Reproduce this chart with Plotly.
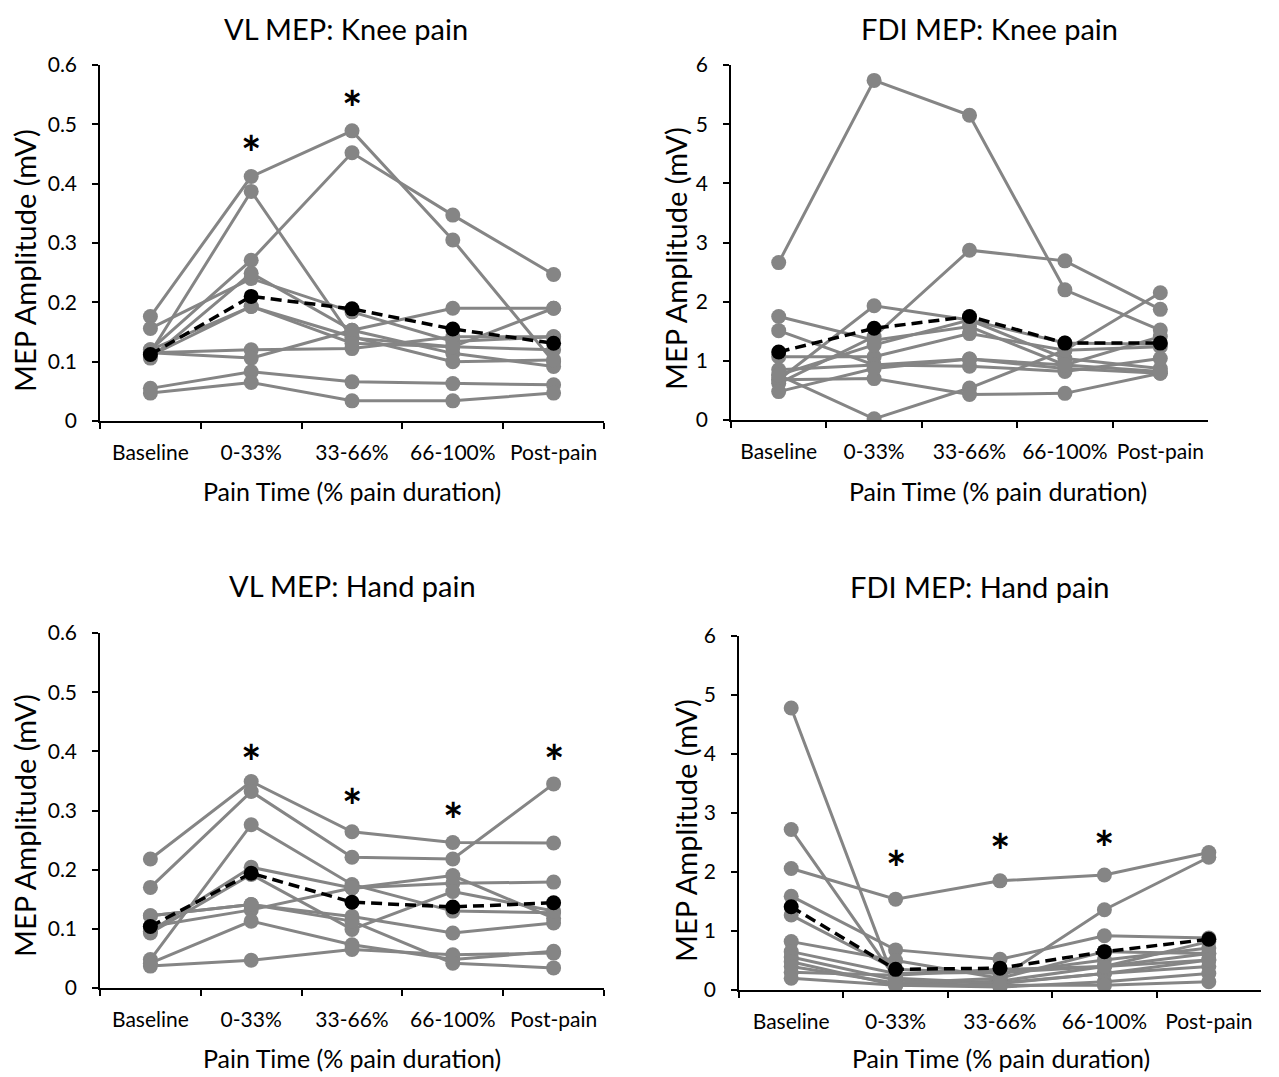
import plotly.graph_objects as go

CATS = ["Baseline", "0-33%", "33-66%", "66-100%", "Post-pain"]

# VL MEP: Knee pain (mV)
VL_KNEE = [
    [0.176, 0.412, 0.489, 0.305, 0.100],
    [0.115, 0.387, 0.140, 0.125, 0.120],
    [0.120, 0.271, 0.452, 0.347, 0.247],
    [0.156, 0.240, 0.184, 0.134, 0.142],
    [0.106, 0.249, 0.153, 0.114, 0.092],
    [0.120, 0.193, 0.142, 0.100, 0.103],
    [0.115, 0.120, 0.122, 0.142, 0.142],
    [0.115, 0.106, 0.153, 0.190, 0.190],
    [0.055, 0.083, 0.066, 0.063, 0.061],
    [0.047, 0.065, 0.034, 0.034, 0.047],
    [0.110, 0.193, 0.131, 0.125, 0.190],
]
VL_KNEE_MEAN = [0.112, 0.210, 0.189, 0.155, 0.131]
VL_KNEE_STARS = [("0-33%", 0.469), ("33-66%", 0.546)]

# FDI MEP: Knee pain (mV)
FDI_KNEE = [
    [2.66, 5.74, 5.15, 2.20, 1.52],
    [0.62, 1.41, 2.87, 2.69, 1.87],
    [0.76, 0.02, 0.54, 1.18, 2.15],
    [1.75, 1.35, 1.58, 0.93, 0.82],
    [1.51, 0.93, 1.03, 0.87, 0.79],
    [0.68, 1.93, 1.69, 1.04, 0.87],
    [1.07, 1.07, 1.46, 1.18, 1.24],
    [0.68, 0.70, 0.43, 0.45, 0.79],
    [0.85, 0.93, 0.91, 0.82, 1.04],
    [0.48, 0.87, 1.03, 0.93, 1.41],
    [0.76, 1.27, 1.69, 1.30, 1.28],
]
FDI_KNEE_MEAN = [1.15, 1.55, 1.75, 1.30, 1.30]
FDI_KNEE_STARS = []

# VL MEP: Hand pain (mV)
VL_HAND = [
    [0.218, 0.349, 0.264, 0.246, 0.245],
    [0.170, 0.332, 0.221, 0.218, 0.345],
    [0.048, 0.276, 0.175, 0.130, 0.127],
    [0.096, 0.204, 0.169, 0.190, 0.118],
    [0.122, 0.141, 0.121, 0.093, 0.110],
    [0.104, 0.132, 0.169, 0.177, 0.179],
    [0.042, 0.113, 0.073, 0.048, 0.062],
    [0.037, 0.047, 0.065, 0.056, 0.059],
    [0.093, 0.192, 0.099, 0.163, 0.130],
    [0.122, 0.141, 0.113, 0.042, 0.034],
]
VL_HAND_MEAN = [0.104, 0.194, 0.145, 0.137, 0.144]
VL_HAND_STARS = [("0-33%", 0.399), ("33-66%", 0.326), ("66-100%", 0.301), ("Post-pain", 0.399)]

# FDI MEP: Hand pain (mV)
FDI_HAND = [
    [4.78, 0.10, 0.15, 0.40, 0.62],
    [2.72, 0.20, 0.12, 0.28, 0.51],
    [2.06, 1.54, 1.85, 1.95, 2.33],
    [1.59, 0.68, 0.52, 0.92, 0.88],
    [1.27, 0.35, 0.28, 0.51, 0.71],
    [0.82, 0.50, 0.20, 1.36, 2.25],
    [0.65, 0.28, 0.30, 0.40, 0.82],
    [0.56, 0.17, 0.11, 0.28, 0.40],
    [0.48, 0.08, 0.05, 0.14, 0.28],
    [0.40, 0.12, 0.20, 0.65, 0.62],
    [0.30, 0.25, 0.35, 0.40, 0.51],
    [0.20, 0.08, 0.08, 0.08, 0.14],
]
FDI_HAND_MEAN = [1.41, 0.35, 0.37, 0.65, 0.86]
FDI_HAND_STARS = [("0-33%", 2.24), ("33-66%", 2.54), ("66-100%", 2.58)]

TITLES = ["VL MEP: Knee pain", "FDI MEP: Knee pain", "VL MEP: Hand pain", "FDI MEP: Hand pain"]
Y_TITLE = "MEP Amplitude (mV)"
X_TITLE = "Pain Time (% pain duration)"

# page is 1279x1077; the html body has an 8px margin, so the figure is a bit smaller
PAGE_W, PAGE_H, OFF = 1279, 1077, 8
W, H = PAGE_W - OFF, PAGE_H - OFF
FONT = "Lato"
GRAY = "#858585"


def px(x):
    return (x - OFF) / W


def py(y):
    return 1 - (y - OFF) / H


# panel pixel boxes in page coordinates: (left, right, top, bottom)
BOXES = [(100, 604, 65, 421), (731, 1208, 65, 420), (100, 604, 633, 988), (739, 1261, 636, 990)]
YRANGES = [(0, 0.6, 0.1), (0, 6, 1), (0, 0.6, 0.1), (0, 6, 1)]
PANELS = [
    (VL_KNEE, VL_KNEE_MEAN, VL_KNEE_STARS),
    (FDI_KNEE, FDI_KNEE_MEAN, FDI_KNEE_STARS),
    (VL_HAND, VL_HAND_MEAN, VL_HAND_STARS),
    (FDI_HAND, FDI_HAND_MEAN, FDI_HAND_STARS),
]
# text positions in page pixels (titles: top edge of text box)
TITLE_POS = [(346, 9), (989, 9), (352, 566), (980, 567)]
YT_POS = [(24, 261), (676, 258), (24, 826), (685, 830)]
XT_POS = [(352, 491), (998, 491), (352, 1058), (1001, 1058)]

fig = go.Figure()
annotations = []
layout = {}

for i, ((subjects, mean, stars), (l, r, t, b), (y0, y1, dt)) in enumerate(zip(PANELS, BOXES, YRANGES)):
    n = "" if i == 0 else str(i + 1)
    xa, ya = "x" + n, "y" + n
    for s in subjects:
        fig.add_trace(go.Scatter(
            x=CATS, y=s, mode="lines+markers", xaxis=xa, yaxis=ya,
            line=dict(color=GRAY, width=3), marker=dict(color=GRAY, size=15),
            showlegend=False, hoverinfo="skip"))
    fig.add_trace(go.Scatter(
        x=CATS, y=mean, mode="lines+markers", xaxis=xa, yaxis=ya,
        line=dict(color="black", width=3.5, dash="11px,6px"),
        marker=dict(color="black", size=15), showlegend=False))
    layout["xaxis" + n] = dict(
        domain=[px(l), px(r)], anchor=ya, type="category", categoryorder="array",
        categoryarray=CATS, range=[-0.5, 4.5], showline=True, linecolor="black",
        linewidth=1.5, ticks="outside", tickson="boundaries", ticklen=6,
        tickcolor="black", tickwidth=1.5, showgrid=False, zeroline=False,
        automargin=False, ticklabelstandoff=12, tickangle=0,
        tickfont=dict(family=FONT, size=21, color="black"))
    layout["yaxis" + n] = dict(
        domain=[py(b), py(t)], anchor=xa, range=[y0, y1], dtick=dt,
        tick0=0, showline=True, linecolor="black", linewidth=1.5, ticks="outside",
        ticklen=6, tickcolor="black", tickwidth=1.5, showgrid=False, zeroline=False,
        automargin=False, ticklabelstandoff=11,
        tickfont=dict(family=FONT, size=21, color="black"))
    for cx, cy in stars:
        annotations.append(dict(
            x=cx, y=cy, xref=xa, yref=ya, text="<b>*</b>", showarrow=False,
            font=dict(family=FONT, size=48, color="black"), yanchor="middle",
            yshift=-10))
    tx, ty = TITLE_POS[i]
    annotations.append(dict(x=px(tx), y=py(ty), xref="paper", yref="paper",
                            text=TITLES[i], showarrow=False,
                            font=dict(family=FONT, size=29, color="black"),
                            xanchor="center", yanchor="top"))
    yx, yy = YT_POS[i]
    annotations.append(dict(x=px(yx), y=py(yy), xref="paper", yref="paper",
                            text=Y_TITLE, showarrow=False, textangle=-90,
                            font=dict(family=FONT, size=29, color="black"),
                            xanchor="center", yanchor="middle"))
    xx, xy = XT_POS[i]
    annotations.append(dict(x=px(xx), y=py(xy), xref="paper", yref="paper",
                            text=X_TITLE, showarrow=False,
                            font=dict(family=FONT, size=25, color="black"),
                            xanchor="center", yanchor="middle"))

fig.update_layout(
    template="none",
    width=W, height=H, margin=dict(l=0, r=0, t=0, b=0, autoexpand=False),
    paper_bgcolor="white", plot_bgcolor="white",
    font=dict(family=FONT, color="black"), showlegend=False,
    annotations=annotations, **layout)

fig.write_html("out.html")
